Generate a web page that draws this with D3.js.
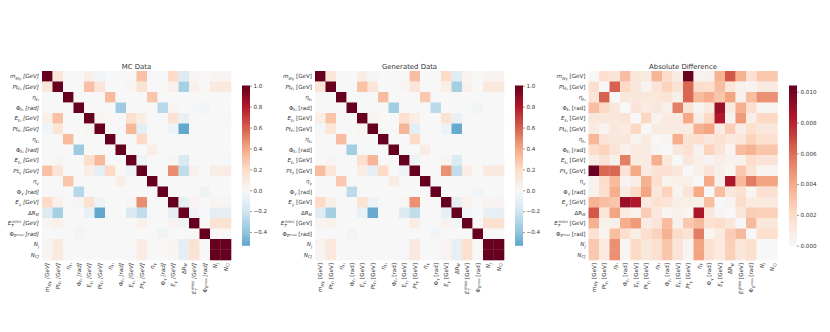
<!DOCTYPE html>
<html>
<head>
<meta charset="utf-8">
<script src="https://cdn.jsdelivr.net/npm/d3@7"></script>
<style>
  html, body { margin: 0; padding: 0; background: #fff; }
  text { font-family: "DejaVu Sans", sans-serif; fill: #333; }
</style>
</head>
<body>
<div id="chart"></div>
<script>
// label = [base, subscript, superscript, unit]
const variables = [
    ["m", "ℓℓγ", "", " [GeV]"], ["Pt", "ℓ₁", "", " [GeV]"], ["η", "ℓ₁", "", ""], ["Φ", "ℓ₁", "", " [rad]"],
    ["E", "ℓ₁", "", " [GeV]"], ["Pt", "ℓ₂", "", " [GeV]"], ["η", "ℓ₂", "", ""], ["Φ", "ℓ₂", "", " [rad]"],
    ["E", "ℓ₂", "", " [GeV]"], ["Pt", "γ", "", " [GeV]"], ["η", "γ", "", ""], ["Φ", "γ", "", " [rad]"],
    ["E", "γ", "", " [GeV]"], ["ΔR", "ℓℓ", "", ""], ["E", "T", "miss", " [GeV]"], ["Φ", "E", "miss", " [rad]"],
    ["N", "j", "", ""], ["N", "CJ", "", ""]
];

// upper triangles, diagonal first
const mcValues = [
    [1, .12, 0, 0, .06, -.03, 0, 0, 0, .3, 0, 0, .2, -.13, .02, 0, .02, .02],
    [1, 0, 0, .3, .13, 0, 0, .02, .14, 0, 0, .05, -.34, .05, 0, .1, .1],
    [1, 0, 0, 0, .32, 0, 0, 0, .28, 0, 0, 0, 0, 0, 0, 0],
    [1, 0, 0, 0, -.36, 0, 0, 0, -.28, .02, 0, -.01, -.03, 0, 0],
    [1, .02, 0, 0, .17, .07, 0, 0, .15, -.08, 0, 0, .01, .01],
    [1, 0, 0, .33, -.1, 0, 0, -.06, -.52, 0, 0, 0, 0],
    [1, 0, 0, .2, 0, 0, 0, 0, 0, 0, 0, 0],
    [1, 0, 0, .07, 0, 0, 0, 0, 0, 0, 0],
    [1, -.05, 0, 0, .02, -.15, 0, 0, 0, -.01],
    [1, 0, 0, .47, -.25, .05, 0, .08, .08],
    [1, 0, 0, -.01, 0, 0, 0, 0],
    [1, 0, 0, 0, -.04, 0, 0],
    [1, -.09, .03, 0, .02, .02],
    [1, -.04, 0, -.1, -.1],
    [1, 0, .15, .15],
    [1, 0, 0],
    [1, 1],
    [1]
];

const genValues = [
    [1, .13, 0, 0, .07, -.02, 0, 0, 0, .31, 0, 0, .2, -.12, .03, 0, .03, .03],
    [1, -.01, 0, .29, .13, 0, 0, .02, .13, 0, 0, .06, -.34, .05, 0, .11, .11],
    [1, 0, -.01, 0, .31, 0, 0, 0, .27, 0, 0, .01, 0, 0, 0, 0],
    [1, 0, 0, 0, -.35, 0, 0, 0, -.27, 0, 0, 0, -.03, 0, 0],
    [1, .02, 0, 0, .17, .07, 0, 0, .15, -.07, 0, 0, .01, .01],
    [1, 0, 0, .34, -.1, 0, 0, -.06, -.51, 0, 0, 0, 0],
    [1, 0, 0, .2, 0, 0, 0, 0, 0, 0, 0, 0],
    [1, 0, 0, .08, 0, 0, 0, 0, 0, 0, 0],
    [1, -.05, 0, 0, .02, -.14, 0, 0, -.01, -.01],
    [1, 0, 0, .46, -.25, .07, 0, .1, .1],
    [1, 0, 0, 0, 0, 0, 0, 0],
    [1, 0, 0, 0, -.03, 0, 0],
    [1, -.09, .04, 0, .03, .03],
    [1, -.03, 0, -.09, -.09],
    [1, 0, .16, .16],
    [1, 0, 0],
    [1, 1],
    [1]
];

const diffValues = [
    [0, .0018, .0014, .0032, .0012, .0009, .0035, .0019, .0008, .0103, .0004, .0005, .0036, .0065, .0037, .0016, .0028, .0028],
    [0, .0062, .0021, .0012, .0003, .0014, .0024, .0015, .006, .0019, .0018, .0032, .0013, .0005, .0003, .001, .001],
    [0, .0012, .0012, .0012, .0012, .0014, .0006, .006, .0033, .0038, .0029, .0042, .0006, .0032, .0048, .0048],
    [0, .0014, .001, .0012, .0005, .0053, .0014, .0003, .0009, .009, .001, .0038, .0018, .0002, .0002],
    [0, .0022, .0004, .001, .001, .004, .0007, .0021, .0083, .0004, .0045, .0007, .0021, .0021],
    [0, .0009, .0009, .0009, .0009, .0037, .0041, .0009, .0026, .0008, .0018, .0012, .0012],
    [0, .0002, .0038, .0015, .0018, .0012, .0017, .0011, .0013, .0024, .0017, .0017],
    [0, .0012, .0016, .0004, .0024, .0014, .0002, .0033, .0036, .0029, .0029],
    [0, .0012, .0006, .0003, .0007, .0005, .0005, .0019, .0014, .0014],
    [0, .0006, .0014, .0006, .0002, .0028, .0015, .0002, .0002],
    [0, .004, .0005, .0085, .0034, .0054, .0042, .0042],
    [0, .0032, .0012, .0017, .0002, .0016, .0016],
    [0, .0003, .0019, .001, .001, .001],
    [0, .0012, .0026, .0025, .0025],
    [0, .0034, .0012, .0012],
    [0, .0018, .0018],
    [0, 0],
    [0]
];

const corrTicks = [-0.4, -0.2, 0, 0.2, 0.4, 0.6, 0.8, 1.0];
const diffTicks = [0, 0.002, 0.004, 0.006, 0.008, 0.010];

// RdBu_r anchors, low to high
const rdbuStops = ["#053061", "#2166ac", "#4393c3", "#92c5de", "#d1e5f0", "#f7f7f7", "#fddbc7", "#f4a582", "#d6604d", "#b2182b", "#67001f"];
const rdbu = d3.piecewise(d3.interpolateRgb, rdbuStops);

const panels = [
    { title: "MC Data", values: mcValues, left: 42, barLeft: 242, domain: [-0.53, 1], center: 1, ticks: corrTicks, fmt: d3.format(".1f"), italicUnit: true },
    { title: "Generated Data", values: genValues, left: 315, barLeft: 515, domain: [-0.53, 1], center: 1, ticks: corrTicks, fmt: d3.format(".1f"), italicUnit: false },
    { title: "Absolute Difference", values: diffValues, left: 588.5, barLeft: 789, domain: [0, 0.01039], center: 0.01039, ticks: diffTicks, fmt: d3.format(".3f"), italicUnit: false }
];

const width = 830, height = 332;
const plotTop = 71, size = 189;
const barTop = 85.7, barBottom = 245.7, barWidth = 8;
const fontSize = 5.6;

const svg = d3.select("#chart").append("svg")
    .attr("width", width)
    .attr("height", height)
    .style("display", "block");

function mirror(rows) {
    const n = rows.length;
    const m = d3.range(n).map(() => new Array(n).fill(0));
    rows.forEach((row, i) => row.forEach((v, k) => {
        m[i][i + k] = v;
        m[i + k][i] = v;
    }));
    return m;
}

// base, subscript, superscript as tspans
function writeLabel(sel, d, italicUnit) {
    const [base, sub, sup, unit] = d;
    let shift = 0;
    sel.append("tspan").attr("font-style", base === "Φ" || base === "ΔR" ? "normal" : "italic").text(base);
    if (sub) {
        sel.append("tspan").attr("dy", 1.4).attr("font-size", fontSize * 0.72).attr("font-style", "italic").text(sub);
        shift = 1.4;
    }
    if (sup) {
        const isE = base === "E";
        sel.append("tspan")
            .attr("dx", isE ? -1.6 : 0)
            .attr("dy", isE ? -3.4 : -1.2)
            .attr("font-size", fontSize * (isE ? 0.72 : 0.55))
            .attr("font-style", "italic")
            .text(sup);
        shift += isE ? -3.4 : -1.2;
    }
    if (unit) {
        sel.append("tspan")
            .attr("dy", -shift)
            .attr("font-style", italicUnit ? "italic" : "normal")
            .text(unit);
    }
}

panels.forEach(p => {
    const matrix = mirror(p.values);
    const g = svg.append("g");

    const x = d3.scaleBand().domain(d3.range(variables.length)).range([p.left, p.left + size]);
    const y = d3.scaleBand().domain(d3.range(variables.length)).range([plotTop, plotTop + size]);
    // same normalisation as a centred heatmap, zero sits in the middle of RdBu
    const color = v => rdbu((v / p.center + 1) / 2);

    matrix.forEach((row, i) => {
        g.selectAll(null)
            .data(row)
            .enter()
            .append("rect")
            .attr("x", (d, j) => x(j))
            .attr("y", y(i))
            .attr("width", x.bandwidth() + 0.3)
            .attr("height", y.bandwidth() + 0.3)
            .attr("fill", d => color(d));
    });

    g.append("text")
        .attr("x", p.left + size / 2)
        .attr("y", plotTop - 2.5)
        .attr("text-anchor", "middle")
        .attr("font-size", 6.9)
        .text(p.title);

    // y labels
    g.selectAll(".ylab")
        .data(variables)
        .enter()
        .append("text")
        .attr("class", "ylab")
        .attr("x", p.left - 3)
        .attr("y", (d, i) => y(i) + y.bandwidth() / 2 + 2)
        .attr("text-anchor", "end")
        .attr("font-size", fontSize)
        .each(function(d) { writeLabel(d3.select(this), d, p.italicUnit); });

    // x labels
    g.selectAll(".xlab")
        .data(variables)
        .enter()
        .append("text")
        .attr("class", "xlab")
        .attr("transform", (d, i) => `translate(${x(i) + x.bandwidth() / 2 + 2},${plotTop + size + 3}) rotate(-90)`)
        .attr("text-anchor", "end")
        .attr("font-size", fontSize)
        .each(function(d) { writeLabel(d3.select(this), d, p.italicUnit); });

    // colour bar
    const barScale = d3.scaleLinear().domain(p.domain).range([barBottom, barTop]);
    const steps = d3.range(0, 160).map(i => p.domain[0] + (p.domain[1] - p.domain[0]) * i / 159);
    g.selectAll(".bar")
        .data(steps)
        .enter()
        .append("rect")
        .attr("class", "bar")
        .attr("x", p.barLeft)
        .attr("y", d => Math.max(barTop, barScale(d) - 1))
        .attr("width", barWidth)
        .attr("height", d => Math.min(1.6, barBottom - Math.max(barTop, barScale(d) - 1)))
        .attr("fill", d => color(d));

    const barAxis = d3.axisRight(barScale)
        .tickValues(p.ticks)
        .tickFormat(d => p.fmt(d).replace("-", "\u2212"))
        .tickSize(2);

    g.append("g")
        .attr("transform", `translate(${p.barLeft + barWidth},0)`)
        .call(barAxis)
        .call(a => a.select(".domain").remove())
        .call(a => a.selectAll(".tick line").attr("stroke", "#333").attr("stroke-width", 0.5))
        .call(a => a.selectAll("text").attr("x", 3.5).attr("font-size", fontSize).attr("font-family", "DejaVu Sans").attr("fill", "#333"));
});
</script>
</body>
</html>
